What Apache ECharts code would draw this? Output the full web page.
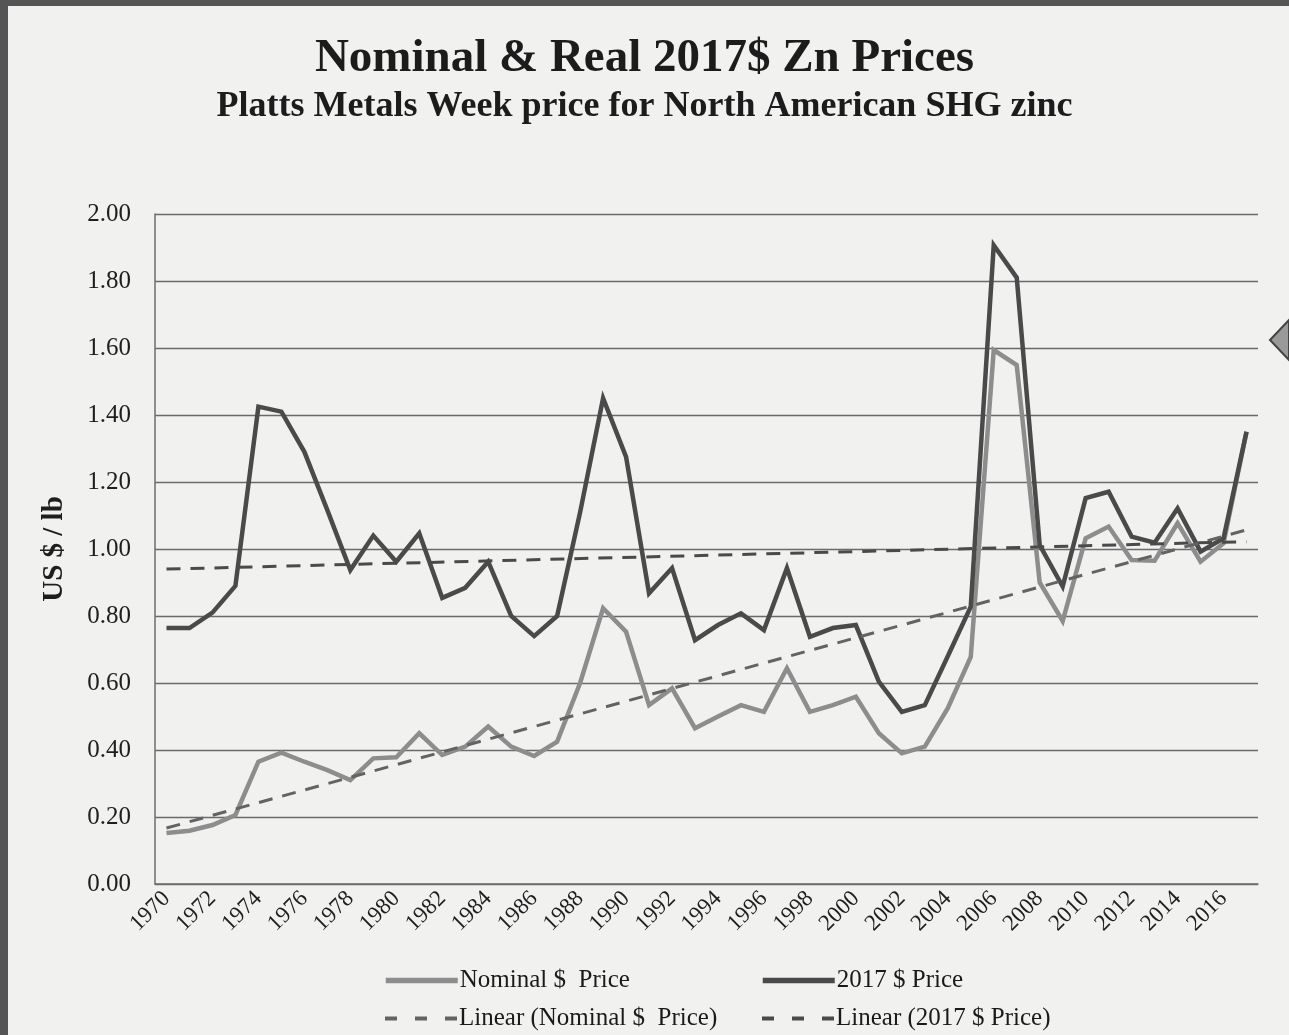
<!DOCTYPE html>
<html>
<head>
<meta charset="utf-8">
<script src="https://cdn.jsdelivr.net/npm/echarts@6/dist/echarts.min.js"></script>
<style>
html,body{margin:0;padding:0;background:#f1f1f0;}
#chart{width:1289px;height:1035px;}
</style>
</head>
<body>
<div id="chart"></div>
<script>
var years = [];
for (var y = 1970; y <= 2017; y++) years.push(String(y));

var nominalPrice = [0.152,0.159,0.176,0.206,0.365,0.392,0.365,0.340,0.310,0.375,
                    0.378,0.450,0.385,0.410,0.470,0.410,0.382,0.425,0.600,0.823,
                    0.753,0.534,0.584,0.465,0.500,0.534,0.514,0.644,0.514,0.534,
                    0.559,0.450,0.390,0.410,0.525,0.678,1.594,1.549,0.900,0.785,
                    1.032,1.067,0.967,0.965,1.077,0.962,1.017,1.350];

var realPrice = [0.764,0.764,0.810,0.890,1.425,1.410,1.290,1.116,0.937,1.040,
                 0.962,1.047,0.854,0.884,0.962,0.800,0.740,0.800,1.110,1.450,
                 1.275,0.868,0.943,0.728,0.773,0.808,0.758,0.943,0.738,0.764,
                 0.773,0.604,0.514,0.534,0.680,0.828,1.907,1.810,1.012,0.888,
                 1.152,1.171,1.037,1.019,1.121,0.992,1.032,1.350];

// trend lines: start (1970) and end (2017) values
var trendYears = ['1970', '2017'];
var trendNominal = [0.167, 1.057];
var trendReal = [0.940, 1.022];

var yTicks = { min: 0, max: 2, step: 0.2 };

var names = {
  nominal: 'Nominal $  Price',
  real: '2017 $ Price',
  tNominal: 'Linear (Nominal $  Price)',
  tReal: 'Linear (2017 $ Price)'
};

var FONT = '"Liberation Serif", "Times New Roman", serif';

function pairs(xs, vs) { return xs.map(function (x, i) { return [x, vs[i]]; }); }

var chart = echarts.init(document.getElementById('chart'), null, { renderer: 'canvas' });

function legendAt(name, left, top, lw, dash) {
  var ls = { width: lw };
  if (dash) ls.type = dash;
  return {
    data: [name], left: left, top: top, orient: 'horizontal', padding: 0,
    itemWidth: 72, itemHeight: 14, itemGap: 0,
    itemStyle: { color: 'rgba(0,0,0,0)', borderWidth: 0, opacity: 0 },
    lineStyle: ls,
    textStyle: { fontFamily: FONT, fontSize: 25, color: '#1a1a1a', padding: [0, 0, 0, -3] },
    selectedMode: false
  };
}

chart.setOption({
  backgroundColor: '#f1f1f0',
  animation: false,
  title: [
    { text: 'Nominal & Real 2017$ Zn Prices', left: 'center', top: 30,
      textStyle: { fontFamily: FONT, fontSize: 47, fontWeight: 'bold', color: '#1c1c1c' } },
    { text: 'Platts Metals Week price for North American SHG zinc', left: 'center', top: 84,
      textStyle: { fontFamily: FONT, fontSize: 36, fontWeight: 'bold', color: '#1c1c1c' } }
  ],
  legend: [
    legendAt(names.nominal, 383, 968, 5.5),
    legendAt(names.real, 760, 968, 5.5),
    legendAt(names.tNominal, 383, 1006, 4, [12, 18]),
    legendAt(names.tReal, 760, 1006, 4, [12, 18])
  ],
  grid: { left: 155, right: 31, top: 214, bottom: 151, containLabel: false },
  xAxis: {
    type: 'category',
    data: years,
    boundaryGap: true,
    axisLine: { show: true, lineStyle: { color: '#6e6e6e', width: 1.5 } },
    axisTick: { show: false },
    axisLabel: { interval: 1, rotate: 45, margin: 11, fontFamily: FONT, fontSize: 23, color: '#1e1e1e' },
    splitLine: { show: false }
  },
  yAxis: {
    type: 'value',
    min: yTicks.min, max: yTicks.max, interval: yTicks.step,
    name: 'US $ / lb',
    nameLocation: 'middle',
    nameGap: 86,
    nameTextStyle: { fontFamily: FONT, fontSize: 29, fontWeight: 'bold', color: '#1e1e1e' },
    axisLine: { show: true, lineStyle: { color: '#6e6e6e', width: 1.5 } },
    axisTick: { show: false },
    axisLabel: { margin: 24, fontFamily: FONT, fontSize: 25, color: '#1e1e1e',
      formatter: function (v) { return v.toFixed(2); } },
    splitLine: { show: true, lineStyle: { color: '#6a6a6a', width: 1.3 } }
  },
  series: [
    { name: names.nominal, type: 'line', data: nominalPrice, symbol: 'none', z: 2,
      lineStyle: { color: '#8d8d8d', width: 4.5, join: 'miter' }, itemStyle: { color: '#8d8d8d' } },
    { name: names.real, type: 'line', data: realPrice, symbol: 'none', z: 3,
      lineStyle: { color: '#4a4a4a', width: 4.5, join: 'miter' }, itemStyle: { color: '#4a4a4a' } },
    { name: names.tNominal, type: 'line', data: pairs(trendYears, trendNominal), symbol: 'none', z: 4,
      lineStyle: { color: '#636363', width: 3, type: [14, 10] }, itemStyle: { color: '#636363' } },
    { name: names.tReal, type: 'line', data: pairs(trendYears, trendReal), symbol: 'none', z: 4,
      lineStyle: { color: '#4a4a4a', width: 3, type: [14, 10] }, itemStyle: { color: '#4a4a4a' } }
  ],
  graphic: [
    { type: 'rect', left: 0, top: 0, shape: { width: 8, height: 1035 }, style: { fill: '#555555' }, silent: true },
    { type: 'rect', left: 0, top: 0, shape: { width: 1289, height: 6 }, style: { fill: '#555555' }, silent: true },
    { type: 'polygon', shape: { points: [[1270, 340], [1289, 320], [1289, 360]] },
      style: { fill: '#9a9a9a', stroke: '#444', lineWidth: 2 }, silent: true }
  ]
});
</script>
</body>
</html>
